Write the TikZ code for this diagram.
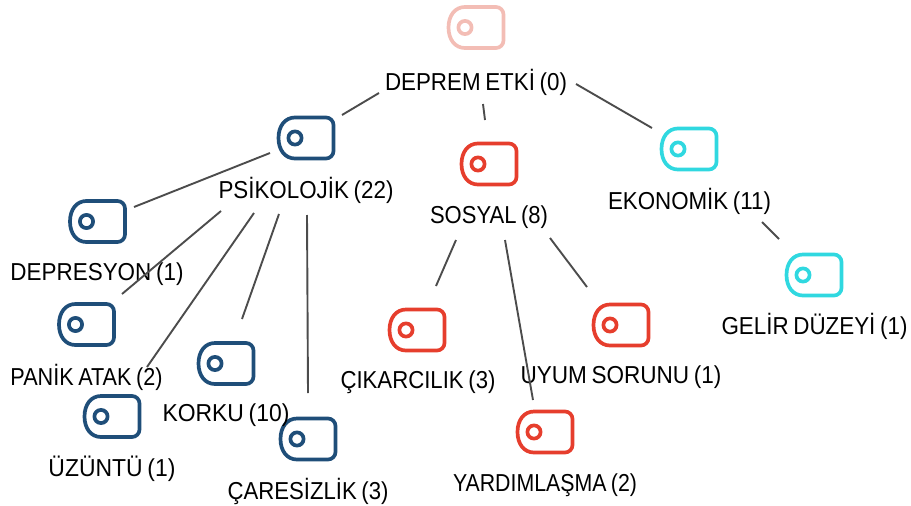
\documentclass[tikz,border=0pt]{standalone}
\usepackage{graphicx}
\usepackage{fontspec}
\setmainfont{Liberation Sans}[WordSpace=0.75]
\newsavebox{\fitbox}
\newcommand{\fitw}[2]{\sbox{\fitbox}{#2}\pgfmathsetmacro{\fitfac}{#1/\the\wd\fitbox}\scalebox{\fitfac}[1]{\usebox{\fitbox}}}
\tikzset{
  iconbox/.pic={
    \draw[line width=3.7pt,pic actions,fill=none]
      (-11,-20.5) -- (20,-20.5) .. controls (24.1,-20.5) and (27.5,-17.1) .. (27.5,-13)
      -- (27.5,13) .. controls (27.5,17.1) and (24.1,20.5) .. (20,20.5)
      -- (-11,20.5) .. controls (-21,20.5) and (-27.5,12) .. (-27.5,0)
      .. controls (-27.5,-12) and (-21,-20.5) .. (-11,-20.5) -- cycle;
    \draw[line width=3.7pt,pic actions,fill=none] (-11,0) circle (6.6);
  },
  lbl/.style={font=\fontsize{24.5}{26}\selectfont,text=black,inner sep=0pt,anchor=center},
  link/.style={draw=black!70,line width=1.9pt},
}
\definecolor{rootc}{HTML}{F3BDB5}
\definecolor{psyc}{HTML}{1F4E79}
\definecolor{socc}{HTML}{E63E2D}
\definecolor{ecoc}{HTML}{30D8E0}
\begin{document}
\begin{tikzpicture}[x=1pt,y=-1pt]
\useasboundingbox (0,0) rectangle (911,506);
\pic[draw=rootc] (iroot) at (476,27.5) {iconbox};
\pic[draw=psyc] (ipsi) at (306,138) {iconbox};
\pic[draw=socc] (isos) at (489,164) {iconbox};
\pic[draw=ecoc] (ieko) at (689,149) {iconbox};
\pic[draw=psyc] (idep) at (97.5,221.5) {iconbox};
\pic[draw=psyc] (ipan) at (86.5,324.5) {iconbox};
\pic[draw=psyc] (iuzu) at (112,416.5) {iconbox};
\pic[draw=psyc] (ikor) at (226,363.5) {iconbox};
\pic[draw=psyc] (icar) at (308,439) {iconbox};
\pic[draw=socc] (icik) at (417,330) {iconbox};
\pic[draw=socc] (iuyu) at (621,325) {iconbox};
\pic[draw=socc] (iyar) at (545,432) {iconbox};
\pic[draw=ecoc] (igel) at (814,275) {iconbox};
\node[lbl] (root) at (476,82) {\fitw{182}{DEPREM ETKİ (0)}};
\node[lbl] (psi) at (306,190) {\fitw{175}{PSİKOLOJİK (22)}};
\node[lbl] (sos) at (489,217) {\fitw{118}{SOSYAL (8)}};
\node[lbl] (eko) at (689.5,201) {\fitw{163}{EKONOMİK (11)}};
\node[lbl] (dep) at (97,274) {\fitw{173}{DEPRESYON (1)}};
\node[lbl] (pan) at (86.5,377) {\fitw{152}{PANİK ATAK (2)}};
\node[lbl] (uzu) at (112,469) {\fitw{127}{ÜZÜNTÜ (1)}};
\node[lbl] (kor) at (226,415) {\fitw{127}{KORKU (10)}};
\node[lbl] (car) at (308,491) {\fitw{161}{ÇARESİZLİK (3)}};
\node[lbl] (cik) at (418,382) {\fitw{155}{ÇIKARCILIK (3)}};
\node[lbl] (uyu) at (621,377) {\fitw{201}{UYUM SORUNU (1)}};
\node[lbl] (yar) at (545,485) {\fitw{184}{YARDIMLAŞMA (2)}};
\node[lbl] (gel) at (814.5,326) {\fitw{186}{GELİR DÜZEYİ (1)}};
\coordinate (a1) at (379,93);   \coordinate (b1) at (342,115);
\coordinate (a2) at (483,104);  \coordinate (b2) at (485,120);
\coordinate (a3) at (576,84);   \coordinate (b3) at (652,128);
\coordinate (a4) at (270,153);  \coordinate (b4) at (134,207);
\coordinate (a5) at (221,211);  \coordinate (b5) at (122,294);
\coordinate (a6) at (254,213);  \coordinate (b6) at (147,367);
\coordinate (a7) at (279,214);  \coordinate (b7) at (242,319);
\coordinate (a8) at (307,215);  \coordinate (b8) at (308,393);
\coordinate (a9) at (456,240);  \coordinate (b9) at (436,286);
\coordinate (a10) at (505,240); \coordinate (b10) at (533,400);
\coordinate (a11) at (550,238); \coordinate (b11) at (587,287);
\coordinate (a12) at (762,222); \coordinate (b12) at (779,239);
\foreach \i in {1,...,12} \draw[link] (a\i) -- (b\i);
\end{tikzpicture}
\end{document}
